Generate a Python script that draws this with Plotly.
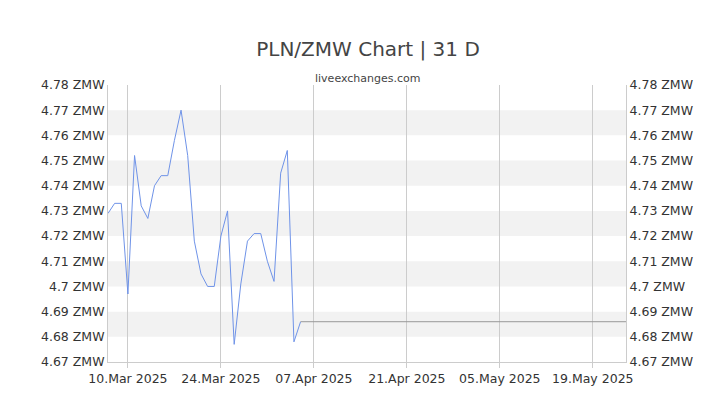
import pandas as pd
import plotly.graph_objects as go

dates = pd.date_range("2025-03-07", periods=30, freq="D")
rates = [4.729, 4.733, 4.733, 4.697, 4.752, 4.732, 4.727, 4.740, 4.744, 4.744,
         4.758, 4.770, 4.752, 4.718, 4.705, 4.700, 4.700, 4.720, 4.730, 4.677,
         4.701, 4.718, 4.721, 4.721, 4.710, 4.702, 4.745, 4.754, 4.678, 4.686]
flat_dates = ["2025-04-05", "2025-05-24"]
flat_rates = [4.686, 4.686]

tickvals = [4.67 + i * 0.01 for i in range(12)]
ticktext = [f"{v:g} ZMW" for v in [round(t, 2) for t in tickvals]]
xticks = ["2025-03-10", "2025-03-24", "2025-04-07", "2025-04-21", "2025-05-05", "2025-05-19"]
xlabels = ["10.Mar 2025", "24.Mar 2025", "07.Apr 2025", "21.Apr 2025", "05.May 2025", "19.May 2025"]

fig = go.Figure()
fig.add_trace(go.Scatter(x=dates, y=rates, mode="lines", line=dict(color="#6f93e8", width=1)))
fig.add_trace(go.Scatter(x=flat_dates, y=flat_rates, mode="lines", line=dict(color="#999999", width=1)))
fig.add_trace(go.Scatter(x=flat_dates, y=flat_rates, mode="lines", yaxis="y2", opacity=0, hoverinfo="skip"))

# alternating bands
for lo in [4.68, 4.70, 4.72, 4.74, 4.76]:
    fig.add_shape(type="rect", xref="paper", x0=0, x1=1, y0=lo, y1=lo + 0.01,
                  fillcolor="#f2f2f2", line_width=0, layer="below")

yax = dict(range=[4.67, 4.78], tickvals=tickvals, ticktext=ticktext, showgrid=False,
           zeroline=False, automargin=False, tickfont=dict(size=12.5, color="#333"))
fig.update_layout(
    width=720, height=405, showlegend=False,
    paper_bgcolor="white", plot_bgcolor="white",
    font=dict(family="DejaVu Sans"),
    title=dict(text="PLN/ZMW Chart | 31 D", x=0.5, y=0.9, xanchor="center", yanchor="middle",
               automargin=False, font=dict(size=20, color="#444")),
    annotations=[dict(text="liveexchanges.com", xref="paper", yref="paper", x=0.5, y=1.055,
                      showarrow=False, font=dict(size=11, color="#444"))],
    margin=dict(l=100, r=102, t=77, b=51),
    xaxis=dict(range=["2025-03-07", "2025-05-24"], tickvals=xticks, ticktext=xlabels,
               showgrid=True, gridcolor="#cccccc", showline=True, linecolor="#cccccc",
               automargin=False, ticks="outside", tickcolor="#cccccc",
               tickfont=dict(size=12.5, color="#333")),
    yaxis=dict(**yax, showline=True, linecolor="#cccccc"),
    yaxis2=dict(**yax, overlaying="y", side="right", showline=True, linecolor="#cccccc"),
)
fig.write_html("out.html")
